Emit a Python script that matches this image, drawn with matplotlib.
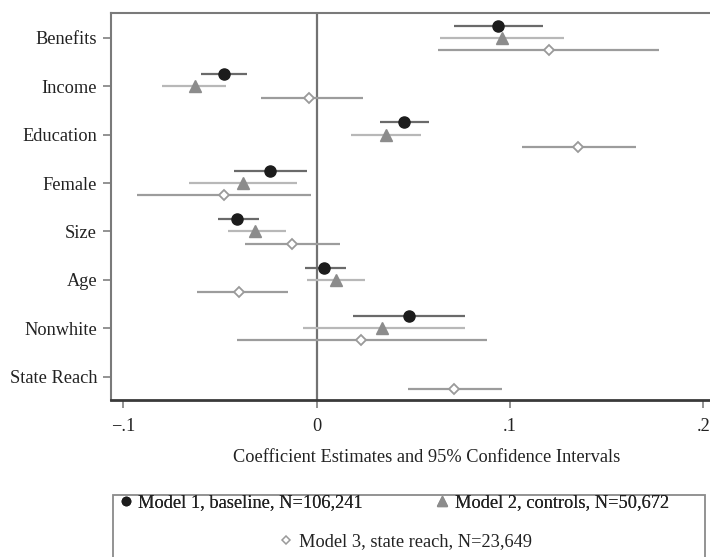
import matplotlib
import numpy as np

matplotlib.use("Agg")
import matplotlib.pyplot as plt
from matplotlib.lines import Line2D
from matplotlib.patches import Rectangle

# Coefficient estimates with 95% CIs, one list per model (top to bottom)
variables = ["Benefits", "Income", "Education", "Female", "Size", "Age",
             "Nonwhite", "State Reach"]

m1_est = [0.094, -0.048, 0.045, -0.024, -0.041, 0.004, 0.048, np.nan]
m1_lo = [0.071, -0.060, 0.033, -0.043, -0.051, -0.006, 0.019, np.nan]
m1_hi = [0.117, -0.036, 0.058, -0.005, -0.030, 0.015, 0.077, np.nan]

m2_est = [0.096, -0.063, 0.036, -0.038, -0.032, 0.010, 0.034, np.nan]
m2_lo = [0.064, -0.080, 0.018, -0.066, -0.046, -0.005, -0.007, np.nan]
m2_hi = [0.128, -0.047, 0.054, -0.010, -0.016, 0.025, 0.077, np.nan]

m3_est = [0.120, -0.004, 0.135, -0.048, -0.013, -0.040, 0.023, 0.071]
m3_lo = [0.063, -0.029, 0.106, -0.093, -0.037, -0.062, -0.041, 0.047]
m3_hi = [0.177, 0.024, 0.165, -0.003, 0.012, -0.015, 0.088, 0.096]

x_ticks = [-0.1, 0.0, 0.1, 0.2]
x_tick_labels = ["\u2212.1", "0", ".1", ".2"]

labels = ["Model 1, baseline, N=106,241", "Model 2, controls, N=50,672",
          "Model 3, state reach, N=23,649"]

plt.rcParams["font.family"] = ["Liberation Serif", "DejaVu Serif"]
plt.rcParams["font.size"] = 13.2

fig = plt.figure(figsize=(7.1, 5.57), dpi=100)
ax = fig.add_axes([111 / 710, 157 / 557, 605 / 710, 387 / 557])

pos = np.arange(1, len(variables) + 1)
offset = 0.25

# zero reference line
ax.axvline(0, color="#727272", lw=1.6, zorder=1)

series = [
    (m1_est, m1_lo, m1_hi, -offset, "#6a6a6a",
     dict(marker="o", ms=8, mfc="#1c1c1c", mec="#1c1c1c")),
    (m2_est, m2_lo, m2_hi, 0.0, "#b8b8b8",
     dict(marker="^", ms=8.5, mfc="#8c8c8c", mec="#8c8c8c")),
    (m3_est, m3_lo, m3_hi, offset, "#9c9c9c",
     dict(marker="D", ms=5.5, mfc="white", mec="#9a9a9a", mew=1.3)),
]

for est, lo, hi, dy, lc, mk in series:
    y = pos + dy
    ax.hlines(y, lo, hi, colors=lc, lw=1.6, zorder=2)
    ax.plot(est, y, ls="none", zorder=3, **mk)

ax.set_xlim(-0.1064, 0.2066)
ax.set_ylim(8.48, 0.49)
ax.set_yticks(pos)
ax.set_yticklabels(variables)
ax.set_xticks(x_ticks)
ax.set_xticklabels(x_tick_labels)

ax.tick_params(axis="y", length=6, width=1.3, color="#8a8a8a", pad=4,
               labelcolor="#222222")
ax.tick_params(axis="x", length=6, width=1.3, color="#8a8a8a", pad=7,
               labelcolor="#222222")

for side in ["left", "top"]:
    ax.spines[side].set_color("#7a7a7a")
    ax.spines[side].set_linewidth(1.5)
ax.spines["bottom"].set_color("#3a3a3a")
ax.spines["bottom"].set_linewidth(2.0)
ax.spines["right"].set_visible(False)

ax.set_xlabel("Coefficient Estimates and 95% Confidence Intervals",
              color="#222222")
ax.xaxis.set_label_coords((426.5 - 111) / 605, (400 - 458) / 387)
ax.xaxis.label.set_va("center")

# legend box running past the bottom edge
fig.add_artist(Rectangle((113 / 710, -0.05), 592 / 710, 0.05 + 62 / 557,
                         transform=fig.transFigure, fill=False,
                         ec="#8a8a8a", lw=1.3))

h1 = Line2D([], [], ls="none", marker="o", ms=6, mfc="#1c1c1c", mec="#1c1c1c")
h2 = Line2D([], [], ls="none", marker="^", ms=7, mfc="#8c8c8c", mec="#8c8c8c")
h3 = Line2D([], [], ls="none", marker="D", ms=4.5, mfc="white", mec="#9a9a9a",
            mew=1.1)

leg1 = fig.legend([h1, h2], labels[:2], ncol=2, frameon=False, loc="center",
                  bbox_to_anchor=(393.5 / 710, 1 - 502.7 / 557),
                  handlelength=0.8, handletextpad=0.3, columnspacing=3.9,
                  borderpad=0, borderaxespad=0, labelcolor="#222222")
fig.legend([h3], labels[2:], frameon=False, loc="center",
           bbox_to_anchor=(405 / 710, 1 - 541.7 / 557),
           handlelength=0.8, handletextpad=0.3, borderpad=0, borderaxespad=0,
           labelcolor="#222222")
fig.add_artist(leg1)

fig.savefig("out.png", dpi=100)
